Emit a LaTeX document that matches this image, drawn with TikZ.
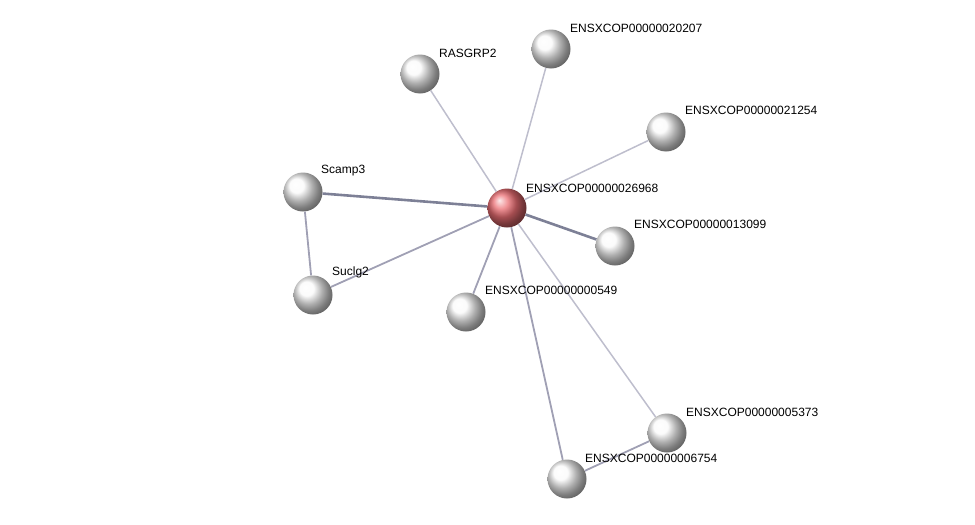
\documentclass[tikz,border=0pt]{standalone}
\usepackage{fontspec}
\setmainfont{Liberation Sans}
\usetikzlibrary{positioning}
\definecolor{edgelight}{RGB}{190,190,205}
\definecolor{edgemid}{RGB}{160,160,180}
\definecolor{edgedark}{RGB}{125,128,150}
\definecolor{hubred}{RGB}{235,110,115}
\begin{document}
\begin{tikzpicture}[x=1pt,y=-1pt,font=\fontsize{12}{13}\selectfont,
  prot/.style={circle,minimum size=39pt,inner sep=0pt,ball color=gray!4},
  hub/.style={prot,ball color=hubred},
  lbl/.style={anchor=south west,inner sep=0pt},
  thin/.style={draw=edgelight,line width=1.5pt},
  mid/.style={draw=edgemid,line width=1.8pt},
  thick/.style={draw=edgedark,line width=2.6pt}]
\useasboundingbox (0,0) rectangle (975,525);
% proteins
\node[hub] (c) at (507,208) {};
\node[prot] (ras) at (420,74) {};
\node[prot] (p207) at (551,49) {};
\node[prot] (p254) at (666,132) {};
\node[prot] (scamp) at (303,192) {};
\node[prot] (p099) at (615,246) {};
\node[prot] (suc) at (313,295) {};
\node[prot] (p549) at (466,312) {};
\node[prot] (p373) at (667,433) {};
\node[prot] (p754) at (567,479) {};
% interactions
\path[thin] (c)--(ras) (c)--(p207) (c)--(p254) (c)--(p373);
\path[mid] (c)--(suc) (c)--(p549) (c)--(p754) (scamp)--(suc) (p373)--(p754);
\path[thick] (c)--(scamp) (c)--(p099);
% names
\node[lbl] at (526,193) {ENSXCOP00000026968};
\node[lbl] at (439,58) {RASGRP2};
\node[lbl] at (570,33) {ENSXCOP00000020207};
\node[lbl] at (685,115) {ENSXCOP00000021254};
\node[lbl] at (321,176) {Scamp3};
\node[lbl] at (634,229) {ENSXCOP00000013099};
\node[lbl] at (332,278) {Suclg2};
\node[lbl] at (485,295) {ENSXCOP00000000549};
\node[lbl] at (686,417) {ENSXCOP00000005373};
\node[lbl] at (585,463) {ENSXCOP00000006754};
\end{tikzpicture}
\end{document}
